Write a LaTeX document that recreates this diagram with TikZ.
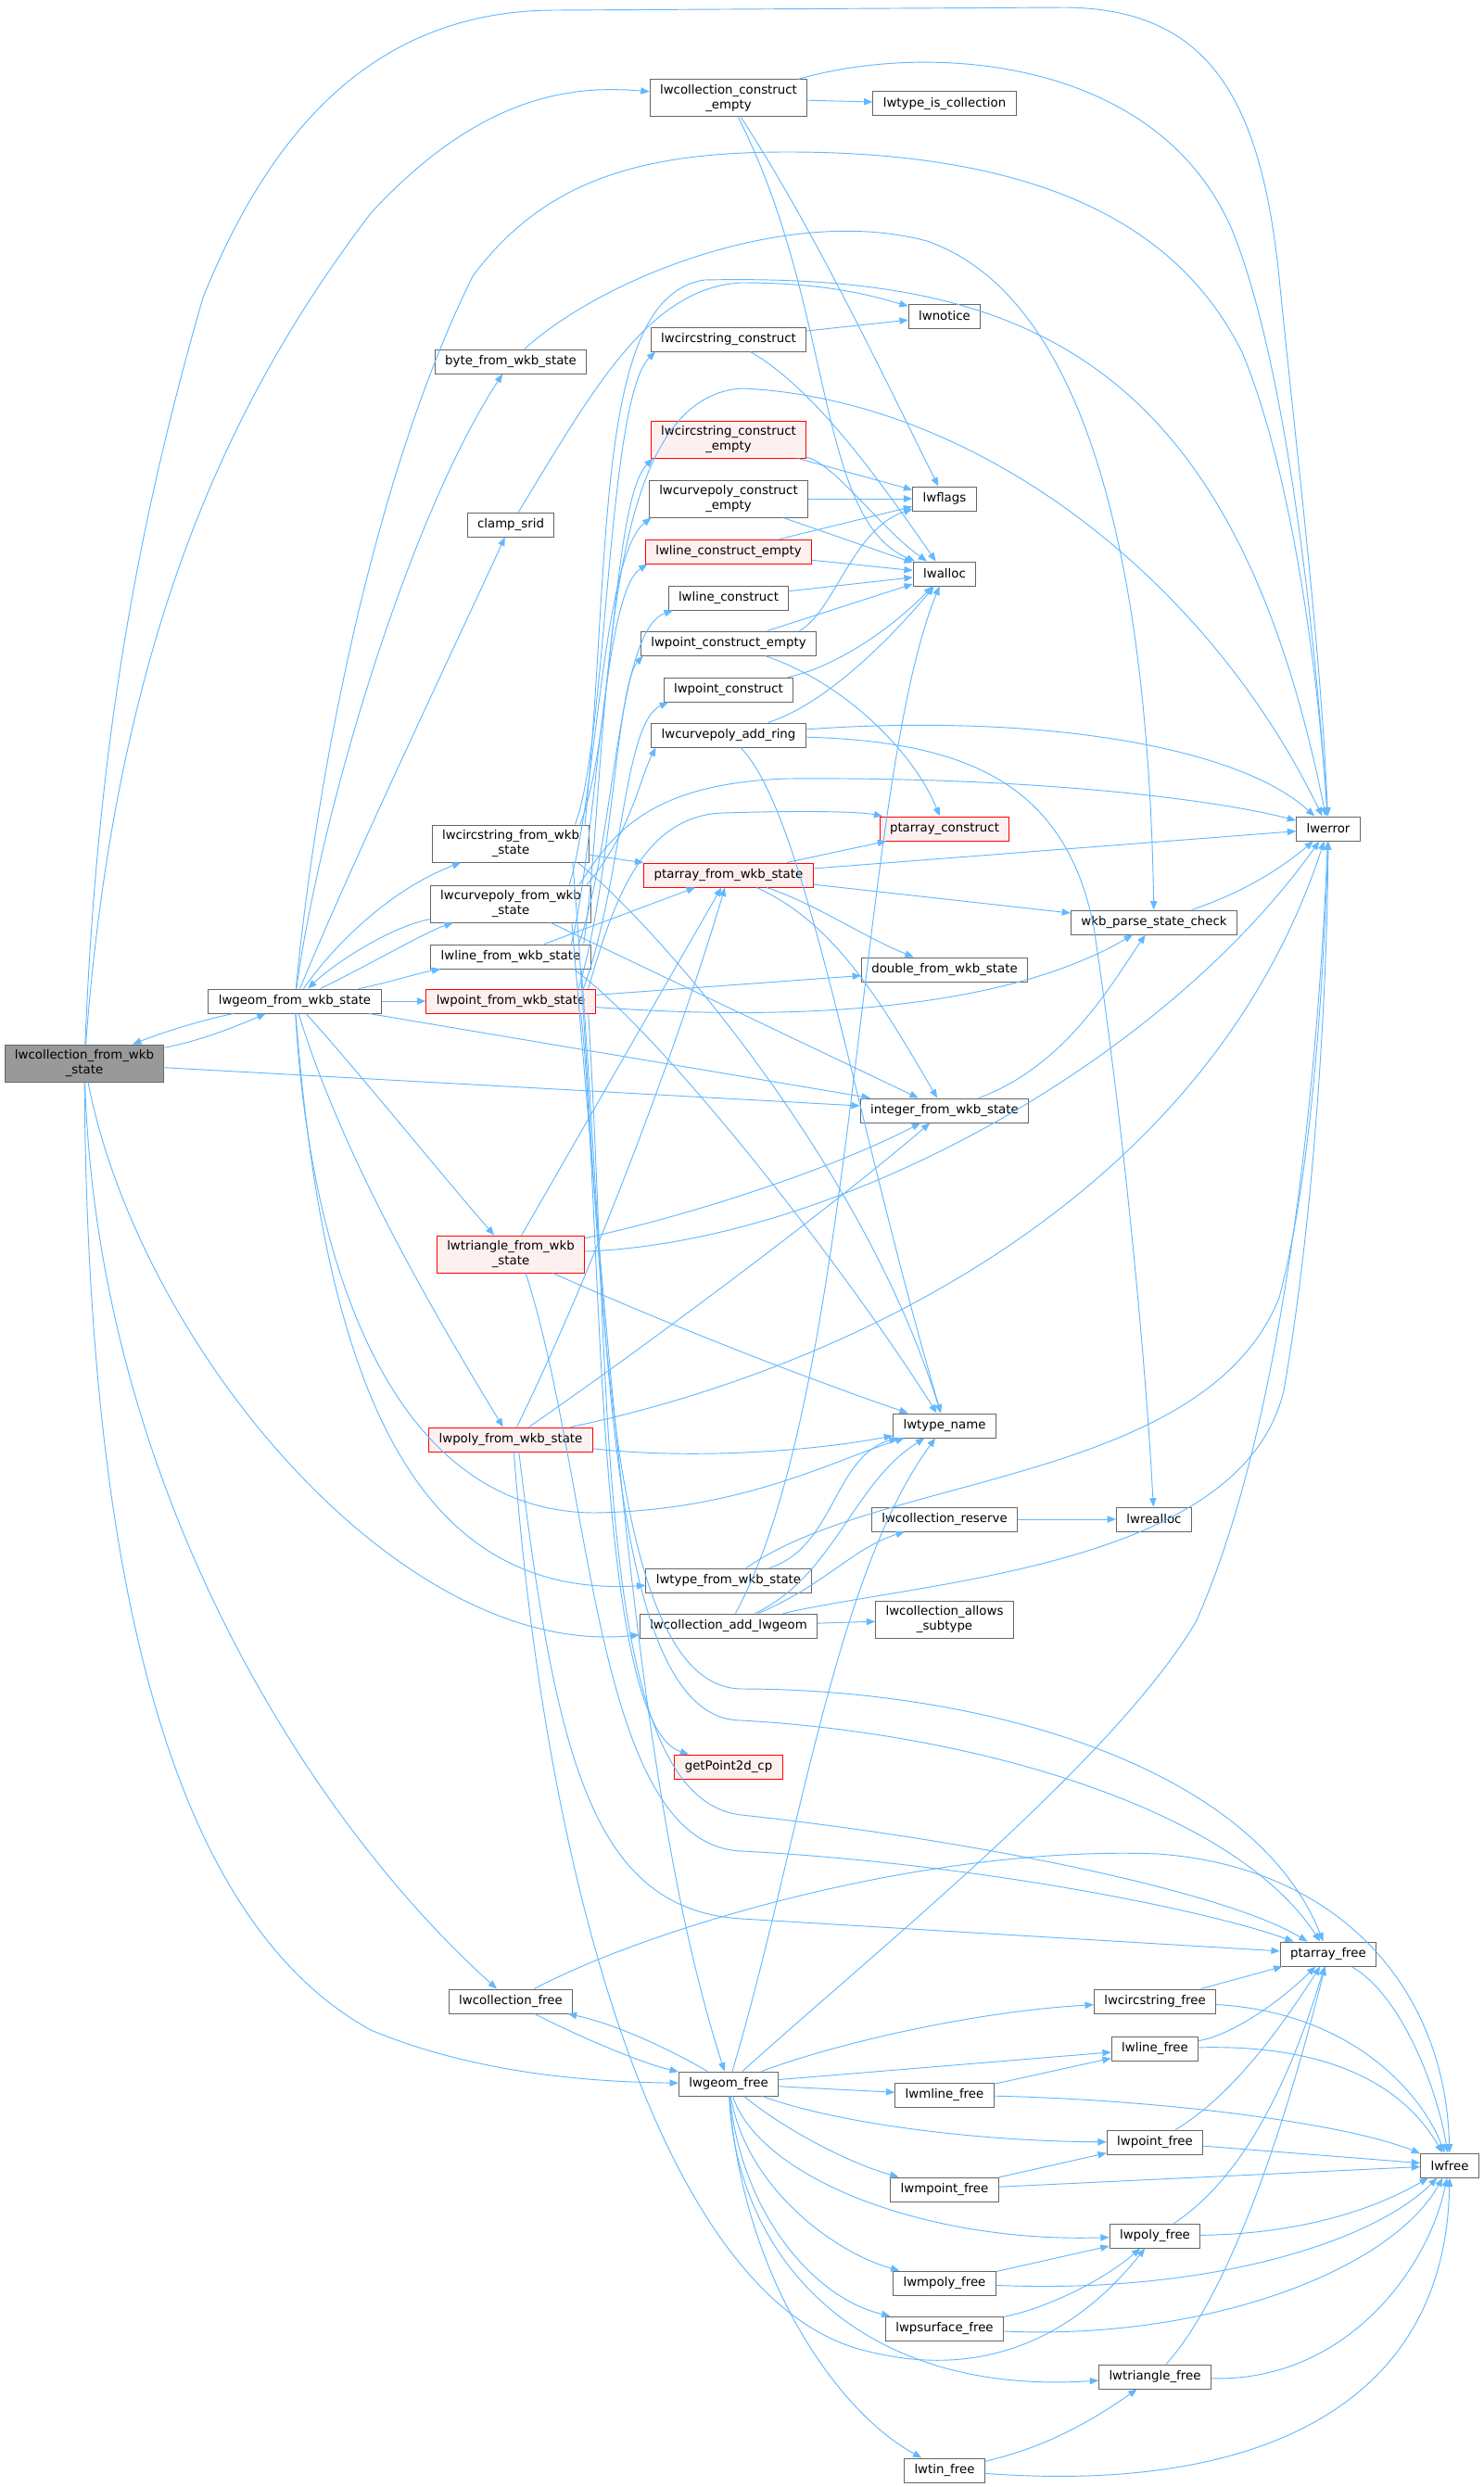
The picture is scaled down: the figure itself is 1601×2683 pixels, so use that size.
\documentclass[tikz,border=0pt]{standalone}
\usepackage{fontspec}
\setmainfont{DejaVu Sans}
\usetikzlibrary{arrows.meta}

\definecolor{edgeblue}{HTML}{63B8FF}
\definecolor{boxgray}{HTML}{666666}
\definecolor{mainfill}{HTML}{999999}
\definecolor{redfill}{HTML}{FFF0F0}

\tikzset{
  fn/.style={draw=boxgray, fill=white, line width=0.75pt, rectangle, inner xsep=8.2pt, inner ysep=2pt,
    minimum height=19.5pt, font=\fontsize{10}{11.6}\selectfont, align=center},
  fnred/.style={fn, draw=red, fill=redfill},
  fnmain/.style={fn, fill=mainfill},
  twoline/.style={minimum height=30pt},
  call/.style={draw=edgeblue, line width=0.7pt, -{Triangle[length=7pt,width=5.5pt]}},
}

\begin{document}
\begin{tikzpicture}[x=0.75pt,y=-0.75pt]
\useasboundingbox (0,0) rectangle (1601,2683);

\node[fnmain,twoline] (colfrom) at (91,1147) {lwcollection\_from\_wkb\\\_state};
\node[fn] (geomfrom) at (318,1080) {lwgeom\_from\_wkb\_state};
\node[fn,twoline] (colempty) at (786,106) {lwcollection\_construct\\\_empty};
\node[fn] (istcoll) at (1019,112) {lwtype\_is\_collection};
\node[fn] (notice) at (1019,341) {lwnotice};
\node[fn] (flags) at (1019,538) {lwflags};
\node[fn] (alloc) at (1019,619) {lwalloc};
\node[fnred] (ptcons) at (1019,894) {ptarray\_construct};
\node[fn] (error) at (1433,894) {lwerror};
\node[fn] (byte) at (551,390) {byte\_from\_wkb\_state};
\node[fn] (clamp) at (551,566) {clamp\_srid};
\node[fn] (cscons) at (786,366) {lwcircstring\_construct};
\node[fnred,twoline] (csempty) at (786,474) {lwcircstring\_construct\\\_empty};
\node[fn,twoline] (cpempty) at (786,538) {lwcurvepoly\_construct\\\_empty};
\node[fnred] (lnempty) at (786,595) {lwline\_construct\_empty};
\node[fn] (lncons) at (786,645) {lwline\_construct};
\node[fn] (ptempty) at (786,694) {lwpoint\_construct\_empty};
\node[fn] (pointcons) at (786,744) {lwpoint\_construct};
\node[fn] (addring) at (786,793) {lwcurvepoly\_add\_ring};
\node[fn,twoline] (csfrom) at (551,910) {lwcircstring\_from\_wkb\\\_state};
\node[fnred] (pafrom) at (786,944) {ptarray\_from\_wkb\_state};
\node[fn,twoline] (cpfrom) at (551,975) {lwcurvepoly\_from\_wkb\\\_state};
\node[fn] (lnfrom) at (551,1032) {lwline\_from\_wkb\_state};
\node[fnred] (ptfrom) at (551,1080) {lwpoint\_from\_wkb\_state};
\node[fnred,twoline] (trifrom) at (551,1353) {lwtriangle\_from\_wkb\\\_state};
\node[fnred] (polyfrom) at (551,1553) {lwpoly\_from\_wkb\_state};
\node[fn] (typefrom) at (786,1705) {lwtype\_from\_wkb\_state};
\node[fn] (addgeom) at (786,1754) {lwcollection\_add\_lwgeom};
\node[fn] (check) at (1245,995) {wkb\_parse\_state\_check};
\node[fn] (dbl) at (1019,1046) {double\_from\_wkb\_state};
\node[fn] (intfrom) at (1019,1198) {integer\_from\_wkb\_state};
\node[fn] (tname) at (1019,1538) {lwtype\_name};
\node[fn] (reserve) at (1019,1639) {lwcollection\_reserve};
\node[fn] (realloc) at (1245,1639) {lwrealloc};
\node[fn,twoline] (allows) at (1019,1747) {lwcollection\_allows\\\_subtype};
\node[fnred] (getpt) at (786,1906) {getPoint2d\_cp};
\node[fn] (colfree) at (551,2159) {lwcollection\_free};
\node[fn] (geomfree) at (786,2248) {lwgeom\_free};
\node[fn] (pafree) at (1433,2108) {ptarray\_free};
\node[fn] (csfree) at (1246,2159) {lwcircstring\_free};
\node[fn] (lnfree) at (1246,2210) {lwline\_free};
\node[fn] (mlnfree) at (1019,2260) {lwmline\_free};
\node[fn] (ptfree) at (1246,2311) {lwpoint\_free};
\node[fn] (lwfreen) at (1564,2336) {lwfree};
\node[fn] (mptfree) at (1019,2362) {lwmpoint\_free};
\node[fn] (polyfree) at (1246,2412) {lwpoly\_free};
\node[fn] (mpolyfree) at (1019,2463) {lwmpoly\_free};
\node[fn] (psurffree) at (1019,2512) {lwpsurface\_free};
\node[fn] (trifree) at (1246,2564) {lwtriangle\_free};
\node[fn] (tinfree) at (1019,2665) {lwtin\_free};

% lwcollection_from_wkb_state
\draw[call] (colfrom) .. controls (105,800) and (150,560) .. (219,321) .. controls (300,120) and (420,11) .. (600,11) -- (1150,8) .. controls (1300,10) and (1360,100) .. (1380,300) .. controls (1400,500) and (1425,700) .. (error);
\draw[call] (colfrom) .. controls (125,700) and (240,440) .. (400,230) .. controls (520,100) and (620,92) .. (colempty);
\draw[call] (colfrom) .. controls (220,1122) and (260,1105) .. (geomfrom);
\draw[call] (colfrom) -- (intfrom);
\draw[call] (colfrom) .. controls (150,1450) and (430,1790) .. (addgeom);
\draw[call] (colfrom) .. controls (105,1600) and (330,1960) .. (colfree);
\draw[call] (colfrom) .. controls (95,1750) and (200,2080) .. (400,2190) .. controls (520,2240) and (650,2246) .. (geomfree);

% lwgeom_from_wkb_state
\draw[call] (geomfrom) .. controls (220,1100) and (180,1112) .. (colfrom);
\draw[call] (geomfrom) .. controls (340,850) and (400,520) .. (510,298) .. controls (590,190) and (700,164) .. (850,164) .. controls (1150,164) and (1280,260) .. (1340,380) .. controls (1390,500) and (1420,700) .. (error);
\draw[call] (geomfrom) .. controls (345,880) and (440,560) .. (byte);
\draw[call] (geomfrom) .. controls (380,930) and (480,720) .. (clamp);
\draw[call] (geomfrom) .. controls (360,1020) and (420,960) .. (csfrom);
\draw[call] (geomfrom) .. controls (400,1040) and (460,1005) .. (cpfrom);
\draw[call] (cpfrom) .. controls (420,1000) and (360,1040) .. (geomfrom);
\draw[call] (geomfrom) .. controls (420,1060) and (450,1050) .. (lnfrom);
\draw[call] (geomfrom) -- (ptfrom);
\draw[call] (geomfrom) -- (intfrom);
\draw[call] (geomfrom) .. controls (390,1160) and (470,1260) .. (trifrom);
\draw[call] (geomfrom) .. controls (370,1250) and (470,1420) .. (polyfrom);
\draw[call] (geomfrom) .. controls (335,1380) and (430,1630) .. (640,1632) .. controls (800,1630) and (900,1575) .. (tname);
\draw[call] (geomfrom) .. controls (350,1500) and (450,1725) .. (typefrom);

% constructors
\draw[call] (colempty) -- (istcoll);
\draw[call] ([xshift=-8pt]colempty.north east) .. controls (1000,45) and (1250,60) .. (1330,250) .. controls (1390,400) and (1420,700) .. (error);
\draw[call] (colempty) .. controls (880,250) and (960,420) .. (flags);
\draw[call] (colempty) .. controls (900,330) and (880,560) .. (alloc);
\draw[call] (cscons) -- (notice);
\draw[call] (cscons) .. controls (880,420) and (950,520) .. (alloc);
\draw[call] (csempty) -- (flags);
\draw[call] (csempty) .. controls (900,500) and (950,570) .. (alloc);
\draw[call] (cpempty) -- (flags);
\draw[call] (cpempty) -- (alloc);
\draw[call] (lnempty) -- (flags);
\draw[call] (lnempty) -- (alloc);
\draw[call] (lncons) -- (alloc);
\draw[call] ([xshift=-14pt]ptempty.north east) .. controls (900,660) and (920,570) .. (flags);
\draw[call] (ptempty) -- (alloc);
\draw[call] (ptempty) .. controls (920,740) and (990,820) .. (ptcons);
\draw[call] (pointcons) .. controls (900,720) and (960,680) .. (alloc);
\draw[call] (addring) .. controls (890,760) and (960,690) .. (alloc);
\draw[call] (addring) .. controls (1100,770) and (1330,800) .. (error);
\draw[call] (addring) .. controls (1050,800) and (1150,850) .. (1180,1000) .. controls (1210,1200) and (1235,1450) .. (realloc);
\draw[call] (addring) .. controls (870,880) and (920,1200) .. (tname);

% lwcircstring_from_wkb_state
\draw[call] (csfrom) -- (pafrom);
\draw[call] ([xshift=-10pt]csfrom.south east) .. controls (700,990) and (930,1250) .. (tname);
\draw[call] ([xshift=-12pt]csfrom.north east) .. controls (655,800) and (655,430) .. ([xshift=4pt]cscons.south west);
\draw[call] ([xshift=-8pt]csfrom.north east) .. controls (662,800) and (660,540) .. ([xshift=2pt]csempty.south west);
\draw[call] ([xshift=-4pt]csfrom.north east) .. controls (660,600) and (640,320) .. (760,302) .. controls (1100,295) and (1330,380) .. (error);
\draw[call] ([xshift=-14pt]csfrom.south east) .. controls (650,1300) and (640,1820) .. (800,1822) .. controls (1050,1822) and (1350,1900) .. (pafree);

% lwline_from_wkb_state
\draw[call] (lnfrom) -- (pafrom);
\draw[call] ([xshift=-16pt]lnfrom.north east) .. controls (645,900) and (650,640) .. ([xshift=2pt]lnempty.south west);
\draw[call] ([xshift=-10pt]lnfrom.north east) .. controls (665,900) and (665,680) .. ([xshift=4pt]lncons.south west);
\draw[call] ([xshift=-6pt]lnfrom.north east) .. controls (660,800) and (640,430) .. (800,419) .. controls (1050,430) and (1300,620) .. (error);
\draw[call] ([xshift=-14pt]lnfrom.south east) .. controls (720,1120) and (920,1380) .. (tname);
\draw[call] ([xshift=-8pt]lnfrom.south east) .. controls (655,1400) and (650,1856) .. (800,1856) .. controls (1050,1870) and (1330,1950) .. (pafree);

% lwpoint_from_wkb_state
\draw[call] (ptfrom) .. controls (900,1105) and (1100,1080) .. (check);
\draw[call] (ptfrom) -- (dbl);
\draw[call] ([xshift=-14pt]ptfrom.north east) .. controls (660,950) and (665,740) .. ([xshift=2pt]ptempty.south west);
\draw[call] ([xshift=-10pt]ptfrom.north east) .. controls (672,950) and (672,780) .. ([xshift=4pt]pointcons.south west);
\draw[call] ([xshift=-6pt]ptfrom.north east) .. controls (660,980) and (690,880) .. (780,877) .. controls (880,874) and (930,876) .. (ptcons);
\draw[call] ([xshift=-12pt]ptfrom.south east) .. controls (650,1300) and (640,1860) .. (getpt);
\draw[call] ([xshift=-6pt]ptfrom.south east) .. controls (660,1500) and (640,1940) .. (800,1958) .. controls (1050,1985) and (1320,2040) .. (pafree);

% lwcurvepoly_from_wkb_state
\draw[call] (cpfrom) -- (intfrom);
\draw[call] ([xshift=-18pt]cpfrom.north east) .. controls (645,850) and (650,600) .. ([xshift=2pt]cpempty.south west);
\draw[call] ([xshift=-4pt]cpfrom.north east) .. controls (680,900) and (690,840) .. ([xshift=4pt]addring.south west);
\draw[call] ([xshift=-16pt]cpfrom.south east) .. controls (660,1500) and (690,1950) .. (geomfree);
\draw[call] ([xshift=-10pt]cpfrom.north east) .. controls (660,900) and (700,845) .. (850,840) .. controls (1100,838) and (1300,860) .. (error);

% lwtriangle_from_wkb_state
\draw[call] (trifrom) -- (pafrom);
\draw[call] (trifrom) .. controls (750,1310) and (900,1260) .. (intfrom);
\draw[call] (trifrom) .. controls (900,1340) and (1250,1150) .. (error);
\draw[call] (trifrom) .. controls (700,1420) and (850,1480) .. (tname);
\draw[call] ([xshift=-48pt]trifrom.south east) .. controls (640,1600) and (640,1990) .. (800,1997) .. controls (1050,2010) and (1300,2060) .. (pafree);

% lwpoly_from_wkb_state
\draw[call] (polyfrom) .. controls (650,1350) and (740,1100) .. (pafrom);
\draw[call] (polyfrom) .. controls (700,1450) and (900,1300) .. (intfrom);
\draw[call] (polyfrom) .. controls (900,1480) and (1300,1300) .. (error);
\draw[call] (polyfrom) .. controls (750,1575) and (880,1565) .. (tname);
\draw[call] ([xshift=-60pt]polyfrom.south east) .. controls (600,1900) and (640,2060) .. (800,2070) .. controls (1050,2085) and (1300,2100) .. (pafree);
\draw[call] ([xshift=-64pt]polyfrom.south east) .. controls (590,2050) and (720,2480) .. (930,2535) .. controls (1060,2570) and (1160,2520) .. (polyfree);

% type and collection helpers
\draw[call] (typefrom) .. controls (900,1670) and (900,1570) .. (tname);
\draw[call] (typefrom) .. controls (950,1590) and (1300,1600) .. (1380,1400) .. controls (1420,1250) and (1430,1000) .. (error);
\draw[call] (addgeom) -- (allows);
\draw[call] (addgeom) .. controls (890,1710) and (920,1670) .. (reserve);
\draw[call] (addgeom) .. controls (900,1700) and (920,1600) .. (tname);
\draw[call] (addgeom) .. controls (1000,1705) and (1340,1690) .. (1385,1500) .. controls (1420,1300) and (1432,1050) .. (error);
\draw[call] (addgeom) .. controls (925,1500) and (925,850) .. (alloc);
\draw[call] (reserve) -- (realloc);

% wkb reading
\draw[call] (intfrom) .. controls (1150,1150) and (1200,1060) .. (check);
\draw[call] (check) .. controls (1350,960) and (1390,930) .. (error);
\draw[call] (byte) .. controls (650,300) and (850,220) .. (1000,260) .. controls (1200,330) and (1240,700) .. (check);
\draw[call] (clamp) .. controls (640,420) and (700,310) .. (800,305) .. controls (900,305) and (950,322) .. (notice);
\draw[call] (pafrom) -- (ptcons);
\draw[call] (pafrom) -- (error);
\draw[call] (pafrom) -- (check);
\draw[call] (pafrom) .. controls (880,975) and (930,1010) .. (dbl);
\draw[call] (pafrom) .. controls (900,995) and (950,1080) .. (intfrom);

% freeing
\draw[call] (colfree) .. controls (620,2195) and (690,2225) .. (geomfree);
\draw[call] (geomfree) .. controls (730,2215) and (670,2185) .. (colfree);
\draw[call] (colfree) .. controls (700,2080) and (1000,1990) .. (1250,2000) .. controls (1450,2015) and (1560,2150) .. (lwfreen);
\draw[call] (geomfree) .. controls (950,2100) and (1200,1900) .. (1290,1750) .. controls (1380,1550) and (1420,1200) .. (error);
\draw[call] (geomfree) .. controls (860,2000) and (900,1700) .. (tname);
\draw[call] (geomfree) .. controls (900,2205) and (1050,2170) .. (csfree);
\draw[call] (geomfree) -- (lnfree);
\draw[call] (geomfree) -- (mlnfree);
\draw[call] (geomfree) .. controls (900,2290) and (1050,2310) .. (ptfree);
\draw[call] (geomfree) .. controls (850,2300) and (920,2335) .. (mptfree);
\draw[call] (geomfree) .. controls (820,2350) and (1000,2420) .. (polyfree);
\draw[call] (geomfree) .. controls (805,2360) and (900,2430) .. (mpolyfree);
\draw[call] (geomfree) .. controls (800,2390) and (880,2480) .. (psurffree);
\draw[call] (geomfree) .. controls (795,2440) and (930,2585) .. (trifree);
\draw[call] (geomfree) .. controls (800,2450) and (900,2600) .. (tinfree);
\draw[call] (csfree) -- (pafree);
\draw[call] (csfree) .. controls (1450,2170) and (1530,2250) .. (lwfreen);
\draw[call] (lnfree) .. controls (1330,2195) and (1380,2160) .. (pafree);
\draw[call] (lnfree) .. controls (1450,2205) and (1520,2260) .. (lwfreen);
\draw[call] (mlnfree) -- (lnfree);
\draw[call] (mlnfree) .. controls (1250,2265) and (1450,2290) .. (lwfreen);
\draw[call] (ptfree) .. controls (1330,2260) and (1380,2190) .. (pafree);
\draw[call] (ptfree) -- (lwfreen);
\draw[call] (mptfree) -- (ptfree);
\draw[call] (mptfree) -- (lwfreen);
\draw[call] (polyfree) .. controls (1340,2350) and (1390,2250) .. (pafree);
\draw[call] (polyfree) .. controls (1400,2410) and (1480,2385) .. (lwfreen);
\draw[call] (mpolyfree) -- (polyfree);
\draw[call] (mpolyfree) .. controls (1300,2475) and (1480,2420) .. (lwfreen);
\draw[call] (psurffree) .. controls (1130,2490) and (1190,2460) .. (polyfree);
\draw[call] (psurffree) .. controls (1300,2525) and (1500,2450) .. (lwfreen);
\draw[call] (trifree) .. controls (1330,2470) and (1390,2280) .. (pafree);
\draw[call] (trifree) .. controls (1450,2570) and (1540,2450) .. (lwfreen);
\draw[call] (tinfree) .. controls (1130,2640) and (1180,2610) .. (trifree);
\draw[call] (tinfree) .. controls (1350,2690) and (1560,2600) .. (lwfreen);
\draw[call] (pafree) .. controls (1510,2150) and (1550,2250) .. (lwfreen);
\end{tikzpicture}
\end{document}
